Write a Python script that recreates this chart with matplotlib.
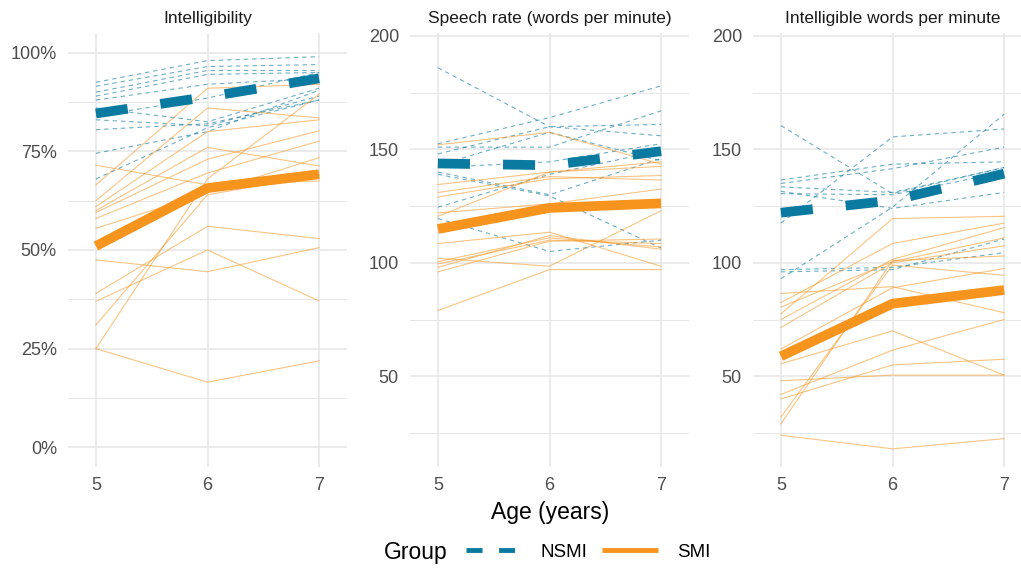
import matplotlib.pyplot as plt
from matplotlib.lines import Line2D
from matplotlib.ticker import PercentFormatter, FixedLocator

plt.rcParams['font.family'] = ['Liberation Sans', 'DejaVu Sans']

# ages on the x axis
ages = [5, 6, 7]

# --- Intelligibility (%), one row per child: age 5, 6, 7
intel_nsmi = [
    [92.5, 98.0, 99.0],
    [91.5, 96.5, 97.0],
    [90.0, 95.5, 95.5],
    [89.0, 94.5, 95.0],
    [88.0, 92.0, 93.5],
    [86.0, 82.5, 91.0],
    [84.0, 88.5, 95.0],
    [83.0, 81.5, 89.0],
    [80.5, 82.0, 88.0],
    [74.5, 80.0, 90.5],
    [68.0, 81.0, 88.0],
]
intel_smi = [
    [71.5, 66.5, 67.5],
    [66.5, 91.0, 92.0],
    [62.5, 86.0, 83.5],
    [61.0, 80.0, 83.0],
    [60.0, 76.0, 71.3],
    [59.5, 73.0, 80.2],
    [58.0, 69.5, 77.6],
    [55.5, 64.5, 73.4],
    [47.5, 44.5, 50.6],
    [39.0, 56.0, 52.9],
    [37.0, 50.0, 37.1],
    [31.0, 64.0, 69.0],
    [25.0, 68.0, 89.5],
    [25.0, 16.5, 21.9],
]
intel_mean_nsmi = [84.6, 88.8, 93.5]
intel_mean_smi = [51.0, 65.7, 69.2]

# --- Speech rate (words per minute)
rate_nsmi = [
    [186.0, 160.0, 156.0],
    [152.5, 164.0, 178.0],
    [151.0, 151.0, 167.0],
    [148.0, 160.0, 161.0],
    [142.0, 144.5, 152.5],
    [140.0, 130.0, 146.0],
    [124.5, 139.0, 149.5],
    [119.5, 105.0, 110.0],
    [139.0, 129.5, 106.5],
    [143.0, 157.5, 145.0],
]
rate_smi = [
    [152.0, 157.5, 143.5],
    [134.5, 140.0, 142.5],
    [131.0, 138.0, 136.5],
    [129.0, 137.0, 138.5],
    [122.0, 126.0, 132.5],
    [120.5, 140.0, 144.5],
    [108.5, 113.5, 98.5],
    [102.0, 98.5, 123.0],
    [100.5, 111.0, 107.0],
    [99.5, 110.0, 108.5],
    [98.0, 112.0, 106.0],
    [96.0, 109.5, 110.5],
    [79.0, 97.0, 97.0],
]
rate_mean_nsmi = [143.8, 143.0, 149.2]
rate_mean_smi = [114.9, 124.2, 126.2]

# --- Intelligible words per minute
iwpm_nsmi = [
    [160.5, 130.5, 142.0],
    [136.5, 143.5, 144.5],
    [135.0, 141.5, 151.0],
    [133.5, 131.0, 142.0],
    [131.5, 124.0, 131.0],
    [130.5, 130.0, 140.0],
    [117.5, 155.5, 159.0],
    [97.0, 98.0, 104.5],
    [96.0, 97.0, 110.5],
    [93.0, 124.5, 165.5],
]
iwpm_smi = [
    [86.5, 89.5, 78.0],
    [82.5, 108.5, 117.5],
    [80.5, 100.5, 111.0],
    [77.5, 119.5, 120.5],
    [75.0, 101.5, 115.5],
    [71.5, 100.0, 107.5],
    [62.0, 89.0, 97.5],
    [55.5, 70.0, 50.5],
    [48.0, 50.5, 50.5],
    [42.0, 61.5, 75.0],
    [40.0, 55.0, 57.5],
    [32.0, 99.0, 94.5],
    [29.0, 101.0, 103.0],
    [24.0, 18.0, 22.5],
]
iwpm_mean_nsmi = [122.1, 127.5, 139.3]
iwpm_mean_smi = [58.8, 82.0, 88.0]

titles = ['Intelligibility', 'Speech rate (words per minute)', 'Intelligible words per minute']

blue = '#0B7AA1'
orange = '#F7941D'
grid_col = '#E6E6E6'

fig = plt.figure(figsize=(10.21, 5.69), dpi=100)
W, H = 1021, 569
lefts = [68, 410, 753]
pw = 279
top, bottom = 33, 467

panels = [
    (intel_nsmi, intel_smi, intel_mean_nsmi, intel_mean_smi, 100.0),
    (rate_nsmi, rate_smi, rate_mean_nsmi, rate_mean_smi, 1.0),
    (iwpm_nsmi, iwpm_smi, iwpm_mean_nsmi, iwpm_mean_smi, 1.0),
]

for i, (nsmi, smi, m_nsmi, m_smi, scale) in enumerate(panels):
    ax = fig.add_axes([lefts[i] / W, (H - bottom) / H, pw / W, (bottom - top) / H])

    for child in nsmi:
        ax.plot(ages, [v / scale for v in child], color=blue, alpha=0.6, lw=0.8,
                linestyle=(0, (4, 3.5)), zorder=2)
    for child in smi:
        ax.plot(ages, [v / scale for v in child], color=orange, alpha=0.55, lw=0.8,
                zorder=2)

    ax.plot(ages, [v / scale for v in m_nsmi], color=blue, lw=7,
            linestyle=(0, (3.3, 3.4)), dash_capstyle='butt', zorder=4)
    ax.plot(ages, [v / scale for v in m_smi], color=orange, lw=7,
            solid_capstyle='butt', solid_joinstyle='round', zorder=4)

    ax.set_xlim(4.75, 7.25)
    ax.set_xticks(ages)
    if i == 0:
        ax.set_ylim(-0.05, 1.05)
        ax.yaxis.set_major_locator(FixedLocator([0, 0.25, 0.5, 0.75, 1.0]))
        ax.yaxis.set_minor_locator(FixedLocator([0.125, 0.375, 0.625, 0.875]))
        ax.yaxis.set_major_formatter(PercentFormatter(1.0, decimals=0))
    else:
        ax.set_ylim(10, 201.3)
        ax.yaxis.set_major_locator(FixedLocator([50, 100, 150, 200]))
        ax.yaxis.set_minor_locator(FixedLocator([25, 75, 125, 175]))

    ax.grid(True, which='major', color=grid_col, lw=1.1, zorder=0)
    ax.grid(True, which='minor', axis='y', color=grid_col, lw=0.7, zorder=0)
    ax.set_axisbelow(True)
    for s in ax.spines.values():
        s.set_visible(False)
    ax.tick_params(which='both', length=0)
    ax.tick_params(axis='y', pad=8, labelsize=13, labelcolor='#4D4D4D')
    ax.tick_params(axis='x', pad=7, labelsize=13, labelcolor='#4D4D4D')
    ax.set_title(titles[i], fontsize=12.5, color='#1A1A1A', pad=7)

fig.text(550 / W, 1 - 513 / H, 'Age (years)', fontsize=16.5, ha='center', va='center')

# legend
fig.text(384 / W, 1 - 552 / H, 'Group', fontsize=16.5, ha='left', va='center')
handles = [
    Line2D([], [], color=blue, lw=3.5, linestyle=(0, (3.3, 3.4)), dash_capstyle='butt'),
    Line2D([], [], color=orange, lw=3.5, solid_capstyle='butt'),
]
fig.legend(handles, ['NSMI', 'SMI'], loc='center left', bbox_to_anchor=(466 / W, 1 - 552 / H),
           ncol=2, frameon=False, fontsize=13.5, handlelength=3.0, handletextpad=1.0,
           columnspacing=0.75, borderpad=0, borderaxespad=0)

fig.savefig('out.png', dpi=100)
